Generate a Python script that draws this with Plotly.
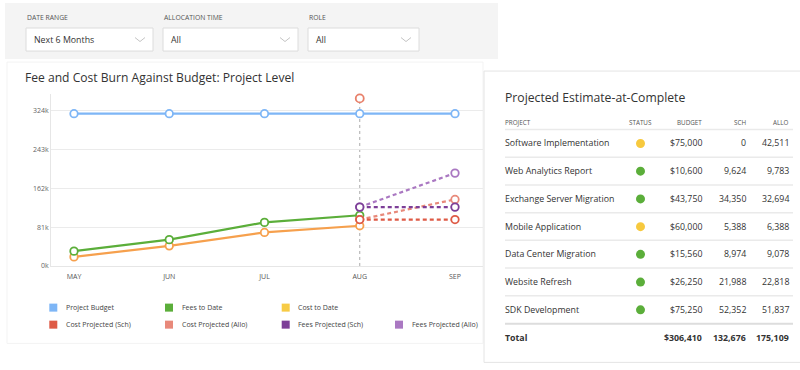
import plotly.graph_objects as go

W, H = 800, 370
FONT = "Open Sans"

# ---------------- data ----------------
months = ["MAY", "JUN", "JUL", "AUG", "SEP"]
project_budget = [318000, 318000, 318000, 318000, 318000]
fees_to_date = [31000, 55000, 91000, 106000, None]
cost_to_date = [19000, 42000, 70000, 84000, None]
cost_proj_sch = [None, None, None, 97000, 97000]
cost_proj_allo = [None, None, None, 97000, 139000]
fees_proj_sch = [None, None, None, 123000, 123000]
fees_proj_allo = [None, None, None, 123000, 194000]
cost_proj_peak = [None, None, None, 350000, None]

y_ticks = [0, 81000, 162000, 243000, 324000]
y_tick_labels = ["0k", "81k", "162k", "243k", "324k"]

legend_names = ["Project Budget", "Fees to Date", "Cost to Date",
                "Cost Projected (Sch)", "Cost Projected (Allo)",
                "Fees Projected (Sch)", "Fees Projected (Allo)"]
legend_colors = ["#7EB6F6", "#5BAE3A", "#F7CB45", "#DE5A45", "#E8897A",
                 "#7D3F98", "#AA78C2"]

filters = ["DATE RANGE", "ALLOCATION TIME", "ROLE"]
filter_values = ["Next 6 Months", "All", "All"]

projects = ["Software Implementation", "Web Analytics Report", "Exchange Server Migration",
            "Mobile Application", "Data Center Migration", "Website Refresh", "SDK Development"]
status = ["yellow", "green", "green", "yellow", "green", "green", "green"]
budget = ["$75,000", "$10,600", "$43,750", "$60,000", "$15,560", "$26,250", "$75,250"]
sch = ["0", "9,624", "34,350", "5,388", "8,974", "21,988", "52,352"]
allo = ["42,511", "9,783", "32,694", "6,388", "9,078", "22,818", "51,837"]
totals = ["Total", "$306,410", "132,676", "175,109"]
table_headers = ["PROJECT", "STATUS", "BUDGET", "SCH", "ALLO"]

# ---------------- helpers ----------------
K = 1.012  # vertical calibration

def px(x):
    return x / W

def py(y):
    return 1 - (y * K) / H

fig = go.Figure()

line_specs = [
    (project_budget, "#7EB6F6", "solid", "Project Budget"),
    (cost_to_date, "#F6A04D", "solid", "Cost to Date"),
    (fees_to_date, "#5BAE3A", "solid", "Fees to Date"),
    (cost_proj_allo, "#E8897A", "4px,3px", "Cost Projected (Allo)"),
    (cost_proj_sch, "#DE5A45", "4px,3px", "Cost Projected (Sch)"),
    (fees_proj_allo, "#AA78C2", "4px,3px", "Fees Projected (Allo)"),
    (fees_proj_sch, "#7D3F98", "4px,3px", "Fees Projected (Sch)"),
]
for vals, col, dash, name in line_specs:
    fig.add_trace(go.Scatter(
        x=months, y=vals, mode="lines+markers", name=name, showlegend=False,
        line=dict(color=col, width=2.2, dash=dash),
        marker=dict(symbol="circle", size=7.5, color="white", line=dict(color=col, width=1.8)),
        connectgaps=False, cliponaxis=False,
    ))
fig.add_trace(go.Scatter(
    x=months, y=cost_proj_peak, mode="markers", showlegend=False,
    marker=dict(symbol="circle", size=8, color="white", line=dict(color="#E8806A", width=1.8)),
    cliponaxis=False,
))

shapes = []
annotations = []

# panels
shapes.append(dict(type="rect", xref="paper", yref="paper", layer="below",
                   x0=px(5), x1=px(498), y0=py(3), y1=py(59),
                   fillcolor="#F4F4F4", line=dict(width=0)))
shapes.append(dict(type="rect", xref="paper", yref="paper", layer="below",
                   x0=px(7), x1=px(483), y0=py(62), y1=py(343),
                   fillcolor="white", line=dict(color="#F3F3F3", width=1)))
shapes.append(dict(type="rect", xref="paper", yref="paper", layer="below",
                   x0=px(484), x1=px(805), y0=py(71), y1=py(362),
                   fillcolor="white", line=dict(color="#E4E4E4", width=1)))

# filter dropdowns
box_x = [(26, 153), (163, 298), (308, 419)]
for (x0, x1), lab, val in zip(box_x, filters, filter_values):
    annotations.append(dict(x=px(x0 - 1), y=py(17.5), xref="paper", yref="paper",
                            text=lab, showarrow=False, xanchor="left", yanchor="middle",
                            font=dict(family=FONT, size=6.8, color="#555")))
    shapes.append(dict(type="rect", xref="paper", yref="paper",
                       x0=px(x0), x1=px(x1), y0=py(28), y1=py(51),
                       fillcolor="white", line=dict(color="#DCDCDC", width=1)))
    annotations.append(dict(x=px(x0 + 6), y=py(39.5), xref="paper", yref="paper",
                            text=val, showarrow=False, xanchor="left", yanchor="middle",
                            font=dict(family=FONT, size=8.8, color="#333")))
    cx = x1 - 13
    shapes.append(dict(type="path", xref="paper", yref="paper",
                       path=f"M {px(cx-5)},{py(37.5)} L {px(cx)},{py(41.5)} L {px(cx+5)},{py(37.5)}",
                       line=dict(color="#C4C4C4", width=1)))

# chart title
annotations.append(dict(x=px(23), y=py(77), xref="paper", yref="paper",
                        text="Fee and Cost Burn Against Budget: Project Level", showarrow=False,
                        xanchor="left", yanchor="middle",
                        font=dict(family=FONT, size=12.1, color="#333")))

# vertical dotted marker line at AUG
shapes.append(dict(type="line", xref="x", yref="y", x0="AUG", x1="AUG", y0=0, y1=350000,
                   line=dict(color="#AAAAAA", width=1, dash="dot"), layer="below"))

# legend (custom grid)
leg_cols = [49.3, 165, 281.7, 395]
leg_rows = [307.3, 324.3]
leg_pos = [(0, 0), (0, 1), (0, 2), (1, 0), (1, 1), (1, 2), (1, 3)]
for name, col, (r, c) in zip(legend_names, legend_colors, leg_pos):
    x0 = leg_cols[c]
    yc = leg_rows[r]
    shapes.append(dict(type="rect", xref="paper", yref="paper",
                       x0=px(x0), x1=px(x0 + 8), y0=py(yc - 4), y1=py(yc + 4),
                       fillcolor=col, line=dict(width=0)))
    annotations.append(dict(x=px(x0 + 14.5), y=py(yc), xref="paper", yref="paper",
                            text=name, showarrow=False, xanchor="left", yanchor="middle",
                            font=dict(family=FONT, size=7, color="#444")))

# right table
annotations.append(dict(x=px(503), y=py(97.5), xref="paper", yref="paper",
                        text="Projected Estimate-at-Complete", showarrow=False,
                        xanchor="left", yanchor="middle",
                        font=dict(family=FONT, size=12.2, color="#333")))
col_x = [505, 640.5, 701.7, 746, 789.3]
col_anchor = ["left", "center", "right", "right", "right"]
for h, cx, an in zip(table_headers, col_x, col_anchor):
    xx = cx - 2 if an == "left" else (cx + 2 if an == "right" else cx)
    annotations.append(dict(x=px(xx), y=py(122), xref="paper", yref="paper", text=h,
                            showarrow=False, xanchor=an, yanchor="middle",
                            font=dict(family=FONT, size=6.3, color="#555")))
row_y0, row_h = 143.3, 27.7
sep_y = [129.3] + [157 + i * 27.7 for i in range(6)]
for yy in sep_y:
    shapes.append(dict(type="line", xref="paper", yref="paper", x0=px(505), x1=px(793),
                       y0=py(yy), y1=py(yy), line=dict(color="#EAEAEA", width=1.5)))
shapes.append(dict(type="line", xref="paper", yref="paper", x0=px(505), x1=px(793),
                   y0=py(323.5), y1=py(323.5), line=dict(color="#DDDDDD", width=2)))
status_col = {"yellow": "#F7C93E", "green": "#5BAE3A"}
for i, (p, s, b, sc, al) in enumerate(zip(projects, status, budget, sch, allo)):
    yy = row_y0 + i * row_h
    for txt, cx, an in [(p, col_x[0] - 2, "left"), (b, col_x[2] + 2, "right"),
                        (sc, col_x[3] + 2, "right"), (al, col_x[4] + 2, "right")]:
        annotations.append(dict(x=px(cx), y=py(yy), xref="paper", yref="paper", text=txt,
                                showarrow=False, xanchor=an, yanchor="middle",
                                font=dict(family=FONT, size=8.8, color="#333")))
    shapes.append(dict(type="circle", xref="paper", yref="paper",
                       x0=px(col_x[1] - 4.5), x1=px(col_x[1] + 4.5),
                       y0=py(yy - 4.5), y1=py(yy + 4.5),
                       fillcolor=status_col[s], line=dict(width=0)))
ty = row_y0 + 7 * row_h
for txt, cx, an in zip(totals, [col_x[0] - 2, col_x[2] + 2, col_x[3] + 2, col_x[4] + 2],
                       ["left", "right", "right", "right"]):
    annotations.append(dict(x=px(cx), y=py(ty), xref="paper", yref="paper",
                            text=f"<b>{txt}</b>", showarrow=False, xanchor=an, yanchor="middle",
                            font=dict(family=FONT, size=8.8, color="#333")))

x_left, x_right, x_may, x_step = 51, 483, 74, 95.25
fig.update_layout(
    width=W, height=H, margin=dict(l=0, r=0, t=0, b=0),
    paper_bgcolor="white", plot_bgcolor="rgba(0,0,0,0)",
    showlegend=False,
    xaxis=dict(domain=[px(x_left), px(x_right)], type="category",
               range=[-(x_may - x_left) / x_step, 4 + (x_right - (x_may + 4 * x_step)) / x_step],
               showgrid=False, zeroline=False, showline=True, linecolor="#E6E6E6", linewidth=1,
               ticks="", ticklabelstandoff=4,
               tickfont=dict(family=FONT, size=7, color="#555"), fixedrange=True),
    yaxis=dict(domain=[py(265.7), py(93.5)], range=[0, 360000],
               tickvals=y_ticks, ticktext=y_tick_labels,
               showgrid=True, gridcolor="#EBEBEB", gridwidth=1, zeroline=False,
               showline=True, linecolor="#E6E6E6", linewidth=1, ticks="",
               tickfont=dict(family=FONT, size=7, color="#666"), fixedrange=True),
    shapes=shapes, annotations=annotations,
)

fig.write_html("out.html", config={"displayModeBar": False},
               post_script="document.body.style.margin='0';document.body.style.padding='0';")
